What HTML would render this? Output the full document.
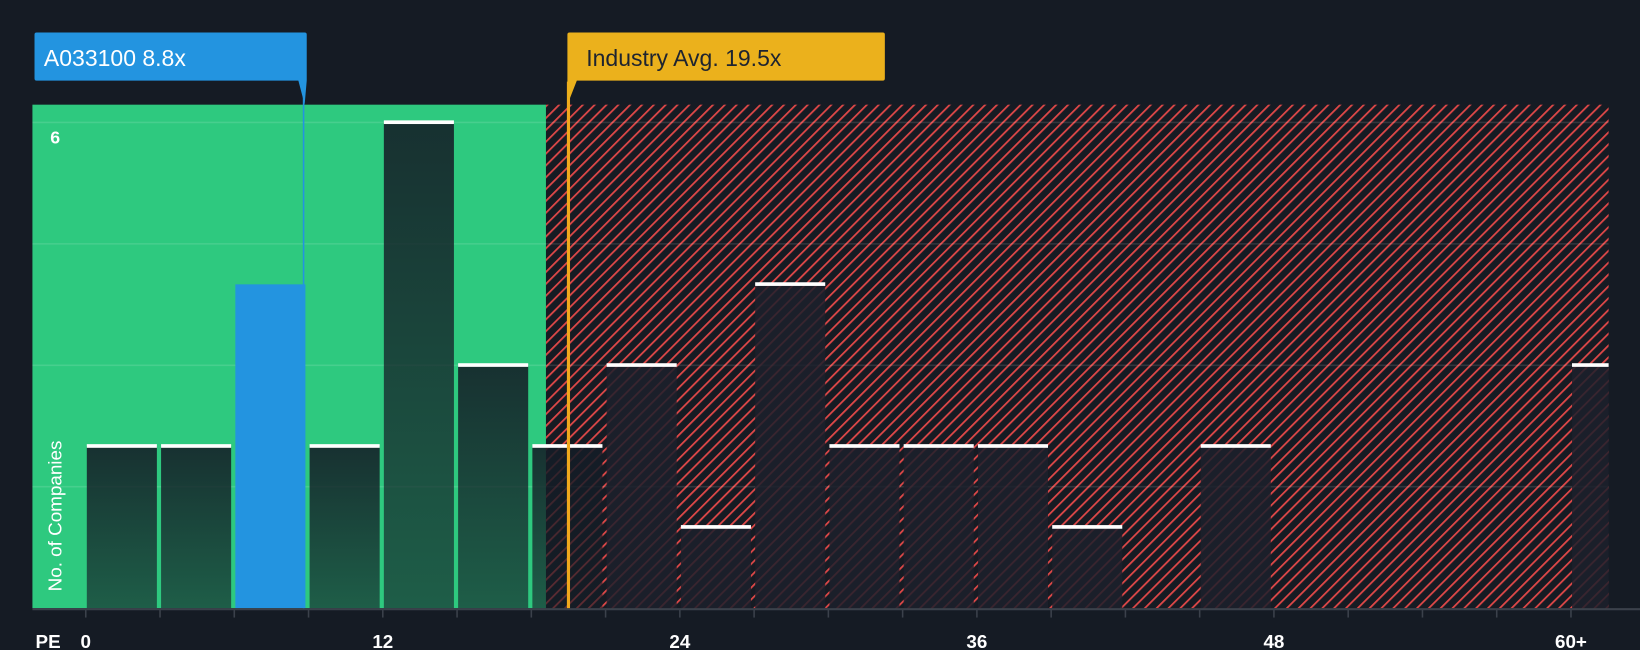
<!DOCTYPE html>
<html><head><meta charset="utf-8"><style>
html,body{margin:0;padding:0;background:#151b24;width:1640px;height:650px;overflow:hidden}
svg{display:block}
text{font-family:"Liberation Sans",sans-serif}
</style></head><body>
<svg id="chart" width="1640" height="650" viewBox="0 0 1568 621" preserveAspectRatio="none" xmlns="http://www.w3.org/2000/svg">
<defs>
<pattern id="hatch" patternUnits="userSpaceOnUse" width="8" height="8" patternTransform="rotate(45)">
<rect width="8" height="8" fill="#161b23"/>
<rect x="0" y="0" width="1.7" height="8" fill="#e04848"/>
</pattern>
<linearGradient id="barGreen" x1="0" y1="0" x2="0" y2="1">
<stop offset="0" stop-color="#141c26" stop-opacity="0.88"/>
<stop offset="1" stop-color="#141c26" stop-opacity="0.62"/>
</linearGradient>
</defs>
<rect x="0" y="0" width="1568" height="621" fill="#151b24"/>
<rect x="31" y="100" width="491" height="481" fill="#2ec97f"/>
<rect x="522" y="100" width="1016" height="481" fill="url(#hatch)"/>
<g id="grid"></g>
<g id="bars"></g>
<g id="axis"></g>
<g id="markers"></g>
</svg>
<script>
const binStarts = [0,3,6,9,12,15,18,21,24,27,30,33,36,39,42,45,48,51,54,57,60];
const counts = [2,2,4,2,6,3,2,3,1,4,2,2,2,1,0,2,0,0,0,0,3];
const highlightBin = 2;
const tickValues = [0,12,24,36,48,60];
const tickLabels = ["0","12","24","36","48","60+"];
const gridValues = [1.5,3,4.5,6];
const companyPE = 8.8;
const industryPE = 19.5;
const companyLabel = "A033100 8.8x";
const industryLabel = "Industry Avg. 19.5x";

const NS="http://www.w3.org/2000/svg";
const x0=82, pxPerUnit=71/3, base=581, pxPerCount=(581-117)/6;
function xs(v){return x0+v*pxPerUnit;}
function ys(c){return base-c*pxPerCount;}
function mk(tag,attrs,parent){const e=document.createElementNS(NS,tag);for(const k in attrs)e.setAttribute(k,attrs[k]);parent.appendChild(e);return e;}
const grid=document.getElementById('grid'),bars=document.getElementById('bars'),axis=document.getElementById('axis'),markers=document.getElementById('markers');

gridValues.forEach(g=>{
  const l=mk('line',{x1:31,x2:1538,y1:ys(g),y2:ys(g),stroke:'rgba(255,255,255,0.12)','stroke-width':1.5},grid);
  
  
});

binStarts.forEach((b,i)=>{
  const c=counts[i]; if(!c) return;
  const x=xs(b)+1, w=Math.min(67, 1538-x), y=ys(c);
  const hl=i===highlightBin;
  const r=mk('rect',{x:x,y:y,width:w,height:base-y,fill:hl?'#2394e0':(x<522?'url(#barGreen)':'rgba(28,32,44,0.85)')},bars);
  
  
  if(!hl){
    const cap=mk('rect',{x:x,y:y-2,width:w,height:3.5,fill:'#ffffff'},bars);
    
    
  }
});

const ax=mk('line',{x1:31,x2:1568,y1:582,y2:582,stroke:'#3b414b','stroke-width':2},axis);


binStarts.forEach(b=>{
  const t=mk('line',{x1:xs(b),x2:xs(b),y1:582,y2:590,stroke:'#3b414b','stroke-width':1.5},axis);
  
  
});
tickValues.forEach((v,i)=>{
  const t=mk('text',{x:xs(v),y:619,'text-anchor':i===0?'start':'middle',fill:'#ffffff','font-size':18,'font-weight':'bold'},axis);
  if(i===0) t.setAttribute('x',xs(v)-5);
  t.textContent=tickLabels[i];
  
  
});
const pe=mk('text',{x:34,y:619,fill:'#ffffff','font-size':18,'font-weight':'bold'},axis);
pe.textContent='PE';


const six=mk('text',{x:48,y:137,fill:'#ffffff','font-size':17,'font-weight':'bold'},axis);
six.textContent='6';


const yt=mk('text',{x:0,y:0,transform:'translate(59,565) rotate(-90)',fill:'#ffffff','font-size':18},axis);
yt.textContent='No. of Companies';



// company marker
const cx=xs(companyPE);
const cl=mk('line',{x1:cx,x2:cx,y1:78,y2:581,stroke:'#2394e0','stroke-width':1.5},markers);


const cb=mk('path',{d:`M33,33 q0,-2 2,-2 H${cx+1} q2,0 2,2 V77 L${cx+1},100 L${cx-5},77 H35 q-2,0 -2,-2 Z`,fill:'#2394e0'},markers);


const ct=mk('text',{x:42,y:63,fill:'#ffffff','font-size':22},markers);
ct.textContent=companyLabel;



// industry marker
const ix=xs(industryPE);
const il=mk('line',{x1:ix,x2:ix,y1:78,y2:581,stroke:'#f0a81c','stroke-width':3},markers);


const ib=mk('path',{d:`M${ix-1},33 q0,-2 2,-2 H844 q2,0 2,2 V75 q0,2 -2,2 H${ix+8} L${ix-1},100 Z`,fill:'#ebb11c'},markers);


const it=mk('text',{x:ix+17,y:63,fill:'#1e2430','font-size':22},markers);
it.textContent=industryLabel;


</script>
</body></html>
